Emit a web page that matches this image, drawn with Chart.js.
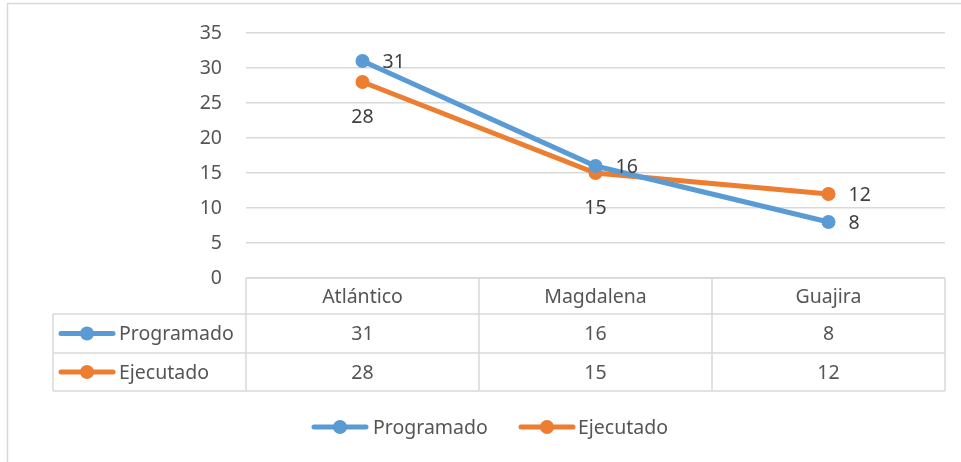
<!DOCTYPE html>
<html>
<head>
<meta charset="utf-8">
<script src="https://cdn.jsdelivr.net/npm/chart.js@4.4.1/dist/chart.umd.min.js"></script>
<style>
  body { margin: 0; background: #fff; }
</style>
</head>
<body>
<canvas id="chart" width="961" height="462"></canvas>
<script>
// values
const categories = ["Atlántico", "Magdalena", "Guajira"];
const programado = [31, 16, 8];
const ejecutado = [28, 15, 12];
const yTicks = [0, 5, 10, 15, 20, 25, 30, 35];

// where each point label sits (right of the point or below it)
const programadoLabelPos = ["right", "right", "right"];
const ejecutadoLabelPos = ["below", "below", "right"];

const BLUE = "#5B9BD5";
const ORANGE = "#ED7D31";
const TEXT = "#555555";
const GRID = "#d9d9d9";
const FONT = "'Noto Sans', 'Open Sans', sans-serif";
const FONT_SIZE = 19.5;

// little line + dot marker, like Excel's
function drawMarker(ctx, x, y, color) {
  ctx.save();
  ctx.strokeStyle = color;
  ctx.lineWidth = 5;
  ctx.lineCap = "round";
  ctx.beginPath();
  ctx.moveTo(x - 26, y);
  ctx.lineTo(x + 26, y);
  ctx.stroke();
  ctx.fillStyle = color;
  ctx.beginPath();
  ctx.arc(x, y, 7, 0, Math.PI * 2);
  ctx.fill();
  ctx.restore();
}

const pointLabels = {
  id: "pointLabels",
  afterDatasetsDraw(chart) {
    const ctx = chart.ctx;
    ctx.save();
    ctx.font = FONT_SIZE + "px " + FONT;
    ctx.fillStyle = "#404040";
    chart.data.datasets.forEach((ds, di) => {
      const meta = chart.getDatasetMeta(di);
      meta.data.forEach((pt, i) => {
        const pos = ds.labelPos[i];
        if (pos === "right") {
          ctx.textAlign = "left";
          ctx.textBaseline = "middle";
          ctx.fillText(ds.data[i], pt.x + 20, pt.y + 1);
        } else {
          ctx.textAlign = "center";
          ctx.textBaseline = "middle";
          ctx.fillText(ds.data[i], pt.x, pt.y + 35);
        }
      });
    });
    ctx.restore();
  }
};

const dataTable = {
  id: "dataTable",
  afterDraw(chart) {
    const ctx = chart.ctx;
    const x = chart.scales.x;
    const area = chart.chartArea;
    const colW = x.width / categories.length;
    const rows = [area.bottom, 314, 353, 391];
    const left = 53;

    ctx.save();
    ctx.strokeStyle = GRID;
    ctx.lineWidth = 1.5;

    // outer chart frame
    ctx.beginPath();
    ctx.rect(7.5, 3.5, 1000, 1000);
    ctx.stroke();

    // horizontal lines
    ctx.beginPath();
    ctx.moveTo(area.left, rows[0]); ctx.lineTo(area.right, rows[0]);
    for (let r = 1; r < rows.length; r++) {
      ctx.moveTo(left, rows[r]); ctx.lineTo(area.right, rows[r]);
    }
    // vertical lines
    ctx.moveTo(left, rows[1]); ctx.lineTo(left, rows[3]);
    for (let c = 0; c <= categories.length; c++) {
      const cx = x.left + c * colW;
      ctx.moveTo(cx, rows[0]); ctx.lineTo(cx, rows[3]);
    }
    ctx.stroke();

    ctx.font = FONT_SIZE + "px " + FONT;
    ctx.fillStyle = TEXT;
    ctx.textBaseline = "middle";
    ctx.textAlign = "center";
    categories.forEach((c, i) => {
      const cx = x.getPixelForValue(i);
      ctx.fillText(c, cx, (rows[0] + rows[1]) / 2 + 1);
      ctx.fillText(programado[i], cx, (rows[1] + rows[2]) / 2 + 1);
      ctx.fillText(ejecutado[i], cx, (rows[2] + rows[3]) / 2 + 1);
    });

    // row headers
    chart.data.datasets.forEach((ds, di) => {
      const cy = (rows[di + 1] + rows[di + 2]) / 2;
      drawMarker(ctx, 87, cy, ds.borderColor);
      ctx.fillStyle = TEXT;
      ctx.textAlign = "left";
      ctx.fillText(ds.label, 119, cy + 1);
    });

    // legend
    const ly = 427;
    drawMarker(ctx, 340, ly, BLUE);
    ctx.fillStyle = TEXT;
    ctx.textAlign = "left";
    ctx.fillText(chart.data.datasets[0].label, 373, ly + 1);
    drawMarker(ctx, 547, ly, ORANGE);
    ctx.fillStyle = TEXT;
    ctx.fillText(chart.data.datasets[1].label, 578, ly + 1);

    ctx.restore();
  }
};

new Chart(document.getElementById("chart"), {
  type: "line",
  data: {
    labels: categories,
    datasets: [
      {
        label: "Programado",
        data: programado,
        labelPos: programadoLabelPos,
        borderColor: BLUE,
        backgroundColor: BLUE,
        borderWidth: 5,
        pointRadius: 7,
        pointBorderWidth: 0,
        pointBackgroundColor: BLUE
      },
      {
        label: "Ejecutado",
        data: ejecutado,
        labelPos: ejecutadoLabelPos,
        borderColor: ORANGE,
        backgroundColor: ORANGE,
        borderWidth: 5,
        pointRadius: 7,
        pointBorderWidth: 0,
        pointBackgroundColor: ORANGE
      }
    ]
  },
  options: {
    responsive: false,
    animation: false,
    events: [],
    layout: {
      padding: { left: 0, top: 33, right: 16, bottom: 184 }
    },
    plugins: {
      legend: { display: false },
      tooltip: { enabled: false }
    },
    scales: {
      x: {
        offset: true,
        grid: { display: false },
        border: { display: false },
        ticks: { display: false },
        afterFit(scale) {
          scale.height = 0;
        }
      },
      y: {
        min: 0,
        max: 35,
        afterBuildTicks(scale) {
          scale.ticks = yTicks.map(v => ({ value: v }));
        },
        afterFit(scale) {
          scale.width = 246;
          scale.paddingTop = 0;
          scale.paddingBottom = 0;
        },
        border: { display: false },
        grid: { color: GRID, lineWidth: 1.5, drawTicks: false },
        ticks: {
          padding: 24,
          color: TEXT,
          font: { family: FONT, size: FONT_SIZE }
        }
      }
    }
  },
  plugins: [pointLabels, dataTable]
});
</script>
</body>
</html>
